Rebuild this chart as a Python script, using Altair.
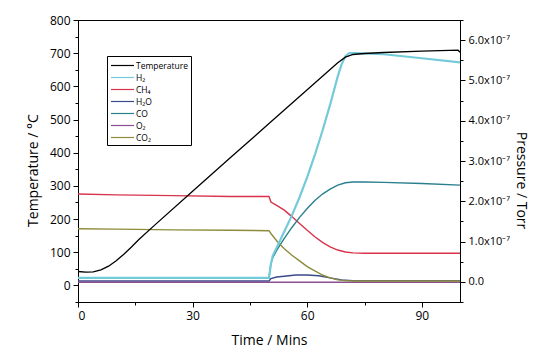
import altair as alt
import pandas as pd

# ---- data (pressure in units of 1e-7 Torr) ----
T_time = [0, 2, 4, 6, 8, 10, 12, 14, 16, 20, 30, 40, 50, 60, 66, 68, 70, 72, 75, 80, 90, 99.5, 100]
T_val = [42, 40, 41, 47, 58, 74, 94, 116, 139, 181, 284, 386, 488, 590, 651, 671, 688, 696, 699, 702, 706, 709, 703]

H2_time = [0, 50, 50.5, 51, 52, 54, 56, 58, 60, 62, 64, 66, 68, 69, 70, 71, 73, 80, 90, 100]
H2_val = [0.1, 0.1, 0.45, 0.65, 0.85, 1.25, 1.65, 2.1, 2.6, 3.15, 3.75, 4.4, 5.1, 5.4, 5.6, 5.68, 5.68, 5.65, 5.55, 5.45]

CH4_time = [0, 10, 25, 40, 50, 50.5, 52, 54, 56, 58, 60, 62, 64, 66, 68, 70, 72, 75, 80, 90, 100]
CH4_val = [2.18, 2.16, 2.14, 2.12, 2.12, 1.98, 1.9, 1.78, 1.62, 1.45, 1.28, 1.12, 0.98, 0.87, 0.79, 0.74, 0.72, 0.71, 0.71, 0.71, 0.71]

H2O_time = [0, 50, 50.5, 52, 54, 57, 60, 63, 66, 69, 72, 80, 100]
H2O_val = [0.02, 0.02, 0.08, 0.12, 0.14, 0.17, 0.17, 0.15, 0.1, 0.05, 0.03, 0.03, 0.03]

CO_time = [0, 50, 50.5, 51, 52, 54, 56, 58, 60, 62, 64, 66, 68, 70, 72, 75, 80, 90, 100]
CO_val = [0.1, 0.1, 0.45, 0.6, 0.78, 1.08, 1.35, 1.6, 1.82, 2.02, 2.18, 2.3, 2.4, 2.46, 2.48, 2.48, 2.47, 2.44, 2.4]

O2_time = [0, 100]
O2_val = [-0.01, -0.01]

CO2_time = [0, 10, 25, 40, 50, 50.5, 52, 54, 56, 58, 60, 62, 64, 66, 68, 70, 72, 80, 100]
CO2_val = [1.32, 1.31, 1.29, 1.28, 1.27, 1.2, 1.02, 0.82, 0.66, 0.52, 0.38, 0.27, 0.17, 0.1, 0.05, 0.03, 0.02, 0.02, 0.02]

series_names = ["Temperature", "H₂", "CH₄", "H₂O", "CO", "O₂", "CO₂"]
series_colors = ["#000000", "#74cad9", "#d9334b", "#3a4a8a", "#2a7f8e", "#8a4f90", "#8c8c3a"]

x_major = [0, 30, 60, 90]
x_minor = [15, 45, 75]
t_major = [0, 100, 200, 300, 400, 500, 600, 700, 800]
t_minor = [-50, 50, 150, 250, 350, 450, 550, 650, 750]
p_major = [0, 1, 2, 3, 4, 5, 6]
p_minor = [-0.5, 0.5, 1.5, 2.5, 3.5, 4.5, 5.5, 6.5]

# ---- tables ----
press_parts = []
for name, ts, vs in [("CH₄", CH4_time, CH4_val), ("H₂O", H2O_time, H2O_val),
                     ("CO", CO_time, CO_val), ("O₂", O2_time, O2_val),
                     ("CO₂", CO2_time, CO2_val)]:
    press_parts.append(pd.DataFrame({"time": ts, "value": vs, "series": name}))
press = pd.concat(press_parts, ignore_index=True)
h2 = pd.DataFrame({"time": H2_time, "value": H2_val, "series": "H₂"})
temp = pd.DataFrame({"time": T_time, "value": T_val, "series": "Temperature"})

FONT = "Open Sans"
xs = alt.Scale(domain=[0, 100], nice=False, zero=False)
ts_ = alt.Scale(domain=[-50, 800], nice=False, zero=False)
ps = alt.Scale(domain=[-0.5, 6.5], nice=False, zero=False)

legend = alt.Legend(
    title="", orient="none", legendX=29, legendY=36,
    fillColor="white", strokeColor="black", padding=3,
    symbolType="M-1,0H3.18", symbolSize=121, symbolStrokeWidth=1.2, symbolFillColor="transparent",
    labelFontSize=8.5, labelFont=FONT, labelColor="black", labelOffset=13,
    rowPadding=1, titlePadding=0,
)
color = alt.Color("series:N", scale=alt.Scale(domain=series_names, range=series_colors), legend=legend)

p_lines = alt.Chart(press).mark_line(strokeWidth=1.4).encode(
    x=alt.X("time:Q", scale=xs, axis=alt.Axis(orient="bottom", values=x_minor, tickSize=3, labels=False,
                                              domain=False, title="")),
    y=alt.Y("value:Q", scale=ps, axis=alt.Axis(
        orient="right", values=p_major, tickSize=5, labelPadding=3, labelFontSize=11,
        labelExpr="datum.value == 0 ? '0.0' : format(datum.value, '.1f') + 'x10⁻⁷'",
        title="Pressure / Torr", titleFontSize=14, titlePadding=4, titleY=160)),
    color=color, detail="series:N",
)

h2_line = alt.Chart(h2).mark_line(strokeWidth=2.2).encode(
    x=alt.X("time:Q", scale=xs, axis=None),
    y=alt.Y("value:Q", scale=ps, axis=None),
    color=color,
)

t_line = alt.Chart(temp).mark_line(strokeWidth=1.3).encode(
    x=alt.X("time:Q", scale=xs, axis=alt.Axis(orient="bottom", values=x_major, tickSize=5, labelPadding=3,
                                              labelFontSize=12, title="Time / Mins", titleFontSize=14,
                                              titlePadding=12)),
    y=alt.Y("value:Q", scale=ts_, axis=alt.Axis(orient="left", values=t_major, tickSize=5, labelPadding=3,
                                                labelFontSize=12, title="Temperature / °C", titleFontSize=14,
                                                titlePadding=9, titleY=150)),
    color=color,
)

t_minor_layer = alt.Chart(temp).mark_line(opacity=0).encode(
    x=alt.X("time:Q", scale=xs, axis=None),
    y=alt.Y("value:Q", scale=ts_, axis=alt.Axis(orient="left", values=t_minor, tickSize=3, labels=False,
                                                domain=False, title="")),
)

p_minor_layer = alt.Chart(press).mark_line(opacity=0).encode(
    x=alt.X("time:Q", scale=xs, axis=None),
    y=alt.Y("value:Q", scale=ps, axis=alt.Axis(orient="right", values=p_minor, tickSize=3, labels=False,
                                               domain=False, title="")),
    detail="series:N",
)

chart = alt.layer(p_lines, h2_line, t_line, t_minor_layer, p_minor_layer).resolve_scale(
    x="independent", y="independent"
).properties(
    width=382, height=282,
    autosize=alt.AutoSizeParams(type="none"),
    padding={"left": 70, "top": 12, "right": 88, "bottom": 50},
    background="white",
).configure_view(
    stroke="black", strokeWidth=1
).configure_axis(
    grid=False, labelFont=FONT, titleFont=FONT, labelColor="black", titleColor="black",
    domainColor="black", tickColor="black", titleFontWeight="normal", domainWidth=1, tickWidth=1,
)

chart.save("out.html", embed_options={"renderer": "svg", "actions": False})
